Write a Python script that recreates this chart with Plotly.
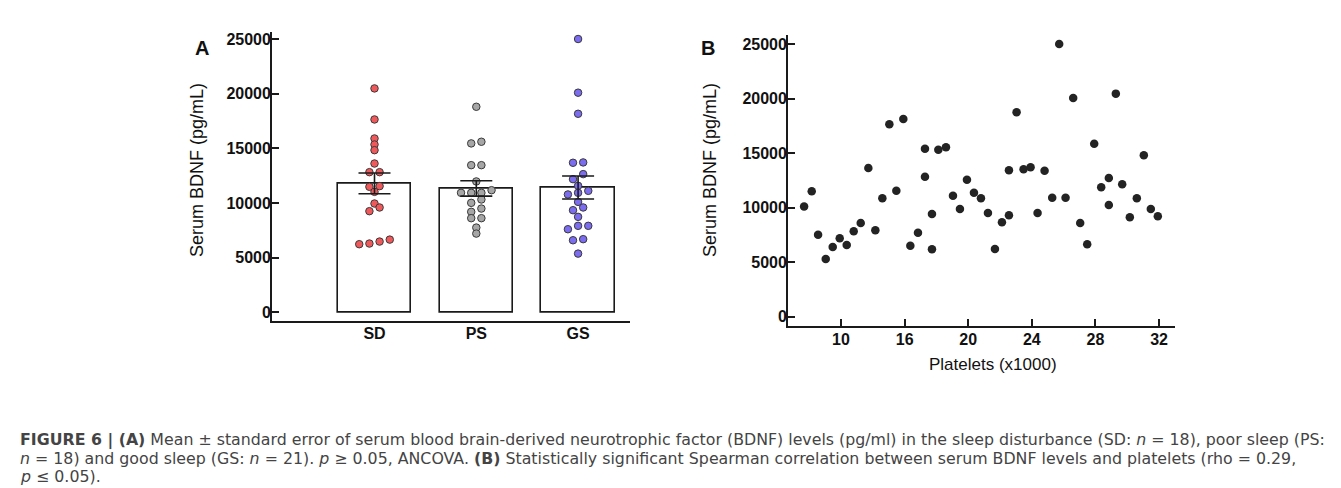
import plotly.graph_objects as go

W, H = 1341, 488

# ---------------- data: panel A ----------------
groups = ["SD", "PS", "GS"]
group_colors = ["#F0595B", "#A6A6A6", "#7B6CF0"]
group_means = [11790, 11330, 11420]
group_se = [950, 700, 1050]

sd_values = [20480, 17640, 15900, 15350, 14830, 13610, 12820, 12820, 11540, 11480,
             11020, 9950, 9590, 9250, 6650, 6470, 6290, 6230]
sd_offsets = [0, 0, 0, 0, 0, 0, -0.05, 0.05, 0.05, -0.05,
              0, 0, 0.05, -0.05, 0.15, 0.05, -0.05, -0.15]
ps_values = [18800, 15450, 15600, 13460, 13460, 11970, 10930, 10930, 10930, 11170,
             10320, 10010, 9490, 9190, 8610, 8610, 7750, 7200]
ps_offsets = [0, -0.05, 0.05, -0.05, 0.05, 0, -0.15, -0.05, 0.05, 0.15,
              0.05, -0.05, 0.05, -0.05, -0.05, 0.05, 0, 0]
gs_values = [25000, 20090, 18160, 13680, 13710, 12640, 12180, 11570, 10780, 10930,
             11110, 10100, 9340, 9590, 8730, 7600, 7910, 7910, 6590, 6690, 5370]
gs_offsets = [0, 0, 0, -0.05, 0.05, 0.05, -0.05, 0, -0.1, 0,
              0.1, 0, -0.05, 0.05, 0, -0.1, 0, 0.1, -0.05, 0.05, 0]

# ---------------- data: panel B ----------------
platelet_tick_labels = ["10", "16", "20", "24", "28", "32"]
platelet_tick_pos = [0, 1, 2, 3, 4, 5]
platelets_pos = [-0.58, -0.46, -0.36, -0.24, -0.13, -0.02, 0.09, 0.20, 0.31, 0.43,
                 0.54, 0.65, 0.76, 0.87, 0.98, 1.09, 1.21, 1.32, 1.32, 1.43,
                 1.43, 1.53, 1.65, 1.76, 1.87, 1.98, 2.09, 2.20, 2.31, 2.42,
                 2.53, 2.64, 2.64, 2.76, 2.87, 2.98, 3.09, 3.20, 3.32, 3.43,
                 3.53, 3.65, 3.76, 3.87, 3.98, 4.09, 4.21, 4.21, 4.32, 4.42,
                 4.54, 4.65, 4.76, 4.87, 4.98]
bdnf_b = [10110, 11490, 7520, 5290, 6390, 7190, 6570, 7830, 8590, 13630,
          7920, 10850, 17640, 11550, 18120, 6510, 7700, 12830, 15400, 9420,
          6180, 15300, 15530, 11090, 9870, 12560, 11370, 10850, 9510, 6210,
          8650, 9300, 13420, 18740, 13510, 13700, 9510, 13390, 10910, 25000,
          10910, 20050, 8590, 6640, 15860, 11860, 12720, 10240, 20450, 12140,
          9110, 10850, 14800, 9870, 9200]

y_ticks = [0, 5000, 10000, 15000, 20000, 25000]
y_tick_labels = ["0", "5000", "10000", "15000", "20000", "25000"]

FONT = "Arial, Liberation Sans, Helvetica, sans-serif"
AXC = "#1a1a1a"

def px_x(p):
    return p / W

def px_y(p):
    return 1 - p / H

fig = go.Figure()

# Panel A bars
fig.add_trace(go.Bar(
    x=[0, 1, 2], y=group_means, width=0.72,
    marker=dict(color="white", line=dict(color=AXC, width=1.6)),
    xaxis="x", yaxis="y", showlegend=False, hoverinfo="skip"))

# Panel A dots
for i, (vals, offs) in enumerate([(sd_values, sd_offsets), (ps_values, ps_offsets), (gs_values, gs_offsets)]):
    fig.add_trace(go.Scatter(
        x=[i + o for o in offs], y=vals, mode="markers",
        marker=dict(size=7.5, color=group_colors[i], line=dict(color="#3a3a3a", width=1)),
        xaxis="x", yaxis="y", showlegend=False))

# Panel A error bars (on top)
fig.add_trace(go.Scatter(
    x=[0, 1, 2], y=group_means, mode="markers",
    marker=dict(size=1, color="rgba(0,0,0,0)"),
    error_y=dict(type="data", array=group_se, visible=True, color=AXC, thickness=1.6, width=16),
    xaxis="x", yaxis="y", showlegend=False, hoverinfo="skip"))

# Panel B scatter
fig.add_trace(go.Scatter(
    x=platelets_pos, y=bdnf_b, mode="markers",
    marker=dict(size=8.5, color="#232323", line=dict(width=0)),
    xaxis="x2", yaxis="y2", showlegend=False))

axis_common = dict(showgrid=False, zeroline=False, showline=True, linecolor=AXC, linewidth=1.8,
                   tickfont=dict(family=FONT, size=16, color="#111", weight="bold"))

# Panel A axes
A_left, A_right, A_top, A_bot = 272, 630, 31.7, 320.7
fig.update_layout(
    xaxis=dict(domain=[px_x(A_left), px_x(A_right)], range=[-1.007, 2.51],
               tickvals=[0, 1, 2], ticktext=groups, ticks="", anchor="y",
               ticklabelstandoff=-3, **axis_common),
    yaxis=dict(domain=[px_y(A_bot), px_y(A_top)], range=[-768, 25668],
               tickvals=y_ticks, ticktext=y_tick_labels, ticks="inside", ticklen=7,
               tickwidth=1.6, tickcolor=AXC, anchor="x", ticklabelstandoff=-4, **axis_common),
)

# Panel B axes
B_left, B_right, B_top, B_bot = 788, 1175, 35, 326
fig.update_layout(
    xaxis2=dict(domain=[px_x(B_left), px_x(B_right)], range=[-0.833, 5.25],
                tickvals=platelet_tick_pos, ticktext=platelet_tick_labels,
                ticks="inside", ticklen=7, tickwidth=1.6, tickcolor=AXC, anchor="y2",
                ticklabelstandoff=-2, **axis_common),
    yaxis2=dict(domain=[px_y(B_bot), px_y(B_top)], range=[-853, 25825],
                tickvals=y_ticks, ticktext=y_tick_labels, ticks="inside", ticklen=7,
                tickwidth=1.6, tickcolor=AXC, anchor="x2", ticklabelstandoff=-4, **axis_common),
)

annotations = []
def ann(text, x, y, size, bold=False, angle=0, xanchor="center", yanchor="middle", color="#111", family=FONT):
    annotations.append(dict(
        text=text, x=px_x(x), y=px_y(y), xref="paper", yref="paper",
        xanchor=xanchor, yanchor=yanchor, showarrow=False, textangle=angle,
        font=dict(family=family, size=size, color=color, weight="bold" if bold else "normal")))

ann("A", 202, 48, 20, bold=True)
ann("B", 708, 48, 20, bold=True)
ann("Serum BDNF (pg/mL)", 197, 170, 18, angle=-90)
ann("Serum BDNF (pg/mL)", 710, 170, 18, angle=-90)
ann("Platelets (x1000)", 993, 364, 17)

CAP = "DejaVu Sans, Open Sans, Arial, sans-serif"
cap1 = ("<b>FIGURE 6 | (A)</b> Mean ± standard error of serum blood brain-derived neurotrophic factor "
        "(BDNF) levels (pg/ml) in the sleep disturbance (SD: <i>n</i> = 18), poor sleep (PS:")
cap2 = ("<i>n</i> = 18) and good sleep (GS: <i>n</i> = 21). <i>p</i> ≥ 0.05, ANCOVA. <b>(B)</b> "
        "Statistically significant Spearman correlation between serum BDNF levels and platelets (rho = 0.29,")
cap3 = "<i>p</i> ≤ 0.05)."
ann(cap1, 18, 440, 15.8, xanchor="left", color="#444", family=CAP)
ann(cap2, 18, 458, 15.8, xanchor="left", color="#444", family=CAP)
ann(cap3, 18, 476, 15.8, xanchor="left", color="#444", family=CAP)

fig.update_layout(
    width=W, height=H, margin=dict(l=0, r=0, t=0, b=0),
    paper_bgcolor="white", plot_bgcolor="white",
    annotations=annotations, bargap=0,
    font=dict(family=FONT, color="#111"),
)

fig.write_html("out.html", config={"displayModeBar": False},
               post_script="document.body.style.margin='0';document.body.style.overflow='hidden';")
